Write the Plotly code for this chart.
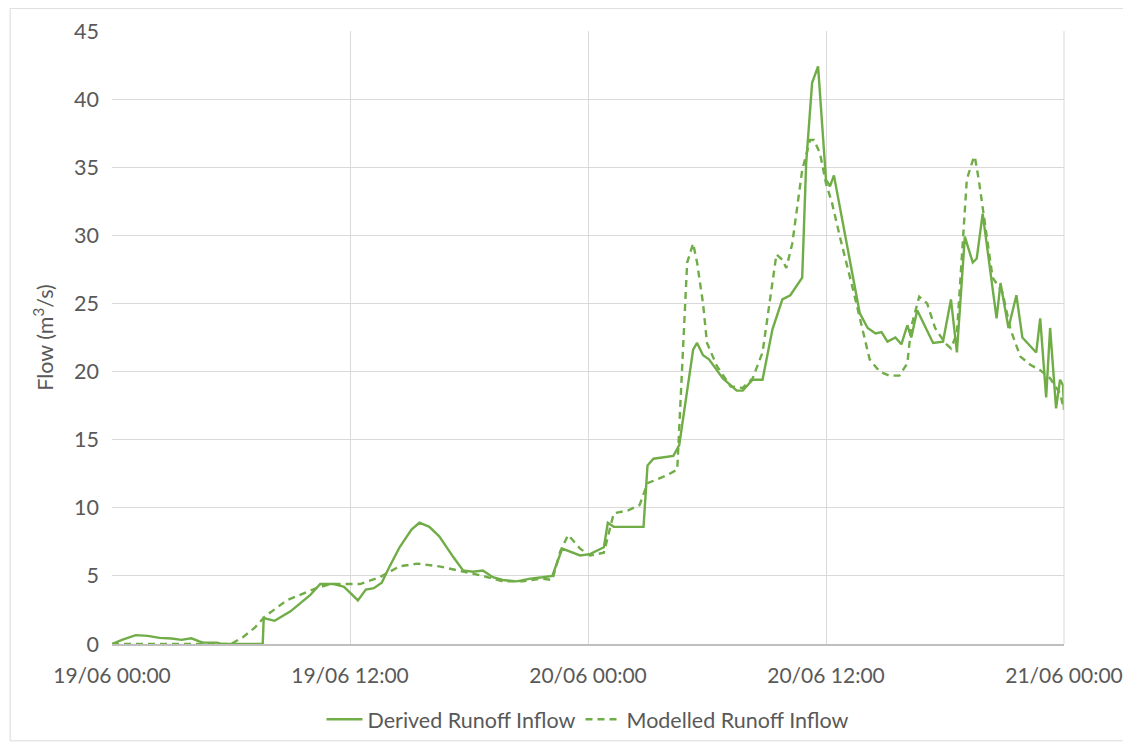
import pandas as pd
import plotly.graph_objects as go

# ---- data (hours after 19/06 00:00, flow in m3/s) ----
derived_hours = [0, 0.5, 1.2, 1.8, 2.4, 3.0, 3.5, 4.0, 4.4, 4.6, 5.3, 5.5, 7.6, 7.65, 8.2, 9.0, 10.0, 10.5,
                 11.2, 11.7, 12.4, 12.8, 13.2, 13.6, 14.0, 14.5, 15.1, 15.5, 16.0, 16.5, 17.2, 17.7, 18.2,
                 18.7, 19.2, 19.7, 20.4, 21.1, 21.7, 22.2, 22.7, 23.1, 23.6, 24.1, 24.8, 25.0, 25.3, 26.8,
                 27.0, 27.3, 28.3, 28.6, 29.3, 29.5, 29.8, 30.1, 30.8, 31.5, 31.8, 32.3, 32.8, 33.3, 33.8,
                 34.2, 34.8, 35.0, 35.3, 35.6, 36.0, 36.2, 36.4, 37.7, 38.1, 38.5, 38.8, 39.1, 39.5, 39.8,
                 40.1, 40.3, 40.6, 41.4, 41.9, 42.3, 42.6, 43.0, 43.4, 43.6, 43.9, 44.6, 44.8, 45.2, 45.6,
                 45.9, 46.6, 46.8, 47.1, 47.3, 47.6, 47.8, 47.95, 48.0]
derived_flow = [0.0, 0.3, 0.65, 0.6, 0.45, 0.4, 0.3, 0.42, 0.2, 0.1, 0.1, 0.0, 0.0, 1.9, 1.7, 2.4, 3.6, 4.4,
                4.4, 4.2, 3.2, 4.0, 4.1, 4.5, 5.7, 7.1, 8.4, 8.9, 8.6, 7.9, 6.4, 5.4, 5.3,
                5.4, 4.9, 4.7, 4.6, 4.8, 4.9, 5.0, 7.0, 6.8, 6.5, 6.6, 7.1, 8.9, 8.6, 8.6,
                13.1, 13.6, 13.8, 14.6, 21.6, 22.1, 21.2, 20.9, 19.5, 18.6, 18.6, 19.4, 19.4, 23.1, 25.3,
                25.6, 26.9, 35.3, 41.2, 42.4, 34.1, 33.6, 34.4, 24.3, 23.2, 22.8, 22.9, 22.2, 22.5, 22.0,
                23.4, 22.5, 24.5, 22.1, 22.2, 25.3, 21.4, 29.9, 28.0, 28.3, 31.6, 23.9, 26.5, 23.2, 25.6,
                22.5, 21.4, 23.9, 18.1, 23.2, 17.3, 19.4, 19.0, 17.2]

modelled_hours = [0, 6.0, 6.6, 7.2, 7.7, 8.8, 10.3, 11.0, 12.5, 13.5, 14.5, 15.4, 16.5, 17.5, 18.7, 19.7,
                  20.7, 21.7, 22.2, 22.6, 23.0, 23.6, 24.1, 24.8, 25.3, 26.0, 26.6, 27.0, 28.0, 28.5,
                  28.8, 29.0, 29.3, 29.5, 29.8, 30.0, 30.5, 31.2, 31.8, 32.3, 32.8, 33.3, 33.5, 33.8,
                  34.0, 34.3, 34.8, 35.2, 35.4, 35.7, 36.0, 36.3, 36.7, 37.4, 37.9, 38.2, 38.7, 39.2,
                  39.7, 40.1, 40.3, 40.7, 41.1, 41.5, 42.0, 42.3, 42.6, 42.9, 43.1, 43.4, 43.5, 43.7,
                  44.1, 44.4, 44.9, 45.3, 45.8, 46.3, 46.8, 47.3, 47.8, 48.0]
modelled_flow = [0.0, 0.0, 0.5, 1.2, 2.0, 3.2, 4.1, 4.4, 4.4, 4.9, 5.7, 5.9, 5.7, 5.4, 5.0, 4.6,
                 4.6, 4.8, 4.7, 6.8, 8.0, 7.0, 6.5, 6.7, 9.6, 9.8, 10.2, 11.8, 12.4, 12.8,
                 21.6, 28.0, 29.4, 28.0, 25.0, 22.1, 20.4, 18.9, 18.8, 19.5, 21.4, 26.5, 28.6, 28.2,
                 27.6, 29.4, 34.8, 37.0, 37.0, 36.0, 33.8, 32.4, 29.9, 25.8, 22.8, 20.9, 20.0, 19.7,
                 19.7, 20.6, 23.3, 25.5, 25.0, 23.2, 22.1, 21.7, 22.8, 29.9, 34.1, 35.5, 35.8, 34.1,
                 29.9, 26.9, 25.8, 23.1, 21.1, 20.5, 20.1, 19.5, 18.4, 17.2]

x_tick_hours = [0, 12, 24, 36, 48]
x_tick_labels = ["19/06 00:00", "19/06 12:00", "20/06 00:00", "20/06 12:00", "21/06 00:00"]
y_ticks = [0, 5, 10, 15, 20, 25, 30, 35, 40, 45]

start = pd.Timestamp("2020-06-19 00:00")
to_time = lambda hrs: [start + pd.Timedelta(hours=h) for h in hrs]

GREEN = "#70AD47"
TEXT = "#595959"
GRID = "#d9d9d9"
FONT = "Lato"

fig = go.Figure()
fig.add_trace(go.Scatter(x=to_time(derived_hours), y=derived_flow, mode="lines",
                         name="Derived Runoff Inflow",
                         line=dict(color=GREEN, width=2.4)))
fig.add_trace(go.Scatter(x=to_time(modelled_hours), y=modelled_flow, mode="lines",
                         name="Modelled Runoff Inflow",
                         line=dict(color=GREEN, width=2.4, dash="7px,5px")))

# page body has an 8px default margin -> figure is 1123x734 so it fills the 1131x742 window
fig.update_layout(
    width=1123, height=734,
    margin=dict(l=104, r=67, t=23, b=98),
    paper_bgcolor="white", plot_bgcolor="white",
    font=dict(family=FONT, color=TEXT, size=21),
    showlegend=True,
    legend=dict(orientation="h", x=0.5, xanchor="center",
                yref="container", y=0.031, yanchor="middle",
                font=dict(size=21.5, color=TEXT), itemwidth=36, tracegroupgap=0,
                bgcolor="rgba(0,0,0,0)"),
    xaxis=dict(
        type="date", automargin=False,
        range=[start, start + pd.Timedelta(hours=48)],
        tickvals=to_time(x_tick_hours), ticktext=x_tick_labels,
        showgrid=True, gridcolor=GRID, gridwidth=1,
        showline=True, linecolor="#bfbfbf", linewidth=1.5,
        ticks="", ticklabelstandoff=12,
        tickfont=dict(size=21, color=TEXT), zeroline=False,
    ),
    yaxis=dict(
        range=[0, 45], tickvals=y_ticks, automargin=False,
        showgrid=True, gridcolor=GRID, gridwidth=1,
        showline=False, zeroline=False, ticks="",
        ticklabelstandoff=12,
        tickfont=dict(size=21.5, color=TEXT),
        title=dict(text="Flow (m<sup>3</sup>/s)", font=dict(size=21.5, color=TEXT), standoff=14),
    ),
)

# right edge of plot area
fig.add_shape(type="line", xref="paper", yref="paper", x0=1, x1=1, y0=0, y1=1,
              line=dict(color=GRID, width=1))
# outer chart border
fig.add_shape(type="rect", xref="paper", yref="paper",
              x0=-0.107, x1=1.069, y0=-0.158, y1=1.037,
              line=dict(color="#d9d9d9", width=1), layer="below")

fig.write_html("out.html")
